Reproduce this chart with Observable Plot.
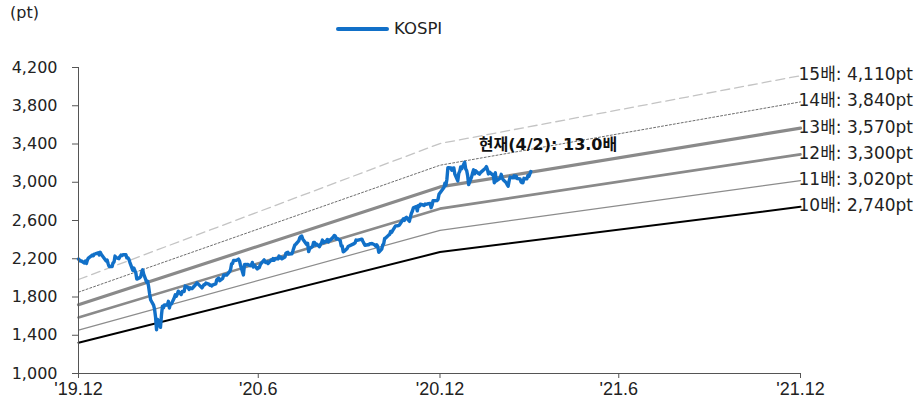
<!DOCTYPE html>
<html><head><meta charset="utf-8">
<script src="https://cdn.jsdelivr.net/npm/d3@7"></script>
<script src="https://cdn.jsdelivr.net/npm/@observablehq/plot@0.6"></script>
<style>
body{margin:0;background:#fff;font-family:"DejaVu Sans","Noto Sans CJK KR",sans-serif;color:#222;}
#wrap{width:922px;}
#head{position:relative;height:48px;}
#unit{position:absolute;left:10px;top:3px;font-size:16px;}
#leg{position:absolute;left:336px;top:19px;display:flex;align-items:center;font-size:16.5px;}
#leg span.sw{display:inline-block;width:53px;height:4px;border-radius:2px;background:#1170c8;margin-right:5px;}
g[aria-label="y-axis tick"],g[aria-label="x-axis tick"]{stroke:#555;}
g[aria-label="y-axis tick label"] text{font-size:16px;fill:#222;}
g[aria-label="x-axis tick label"] text{font-family:"Liberation Sans Narrow","Liberation Sans",sans-serif;font-size:18px;fill:#222;}
</style></head>
<body><div id="wrap"><div id="head"><div id="unit">(pt)</div><div id="leg"><span class="sw"></span>KOSPI</div></div><div id="chart"></div></div>
<script>
// EPS-based PER bands
const epsDates = ["2019-12-31","2020-12-31","2021-12-31"];
const epsValues = [132.2, 227.0, 274.3];
const multiples = [10, 11, 12, 13, 14, 15];
const bandLabels = ["10배: 2,740pt","11배: 3,020pt","12배: 3,300pt","13배: 3,570pt","14배: 3,840pt","15배: 4,110pt"];
const annotationText = "현재(4/2): 13.0배";

const yTicks = [1000,1400,1800,2200,2600,3000,3400,3800,4200];
const xTickDates = ["2019-12-31","2020-06-30","2020-12-31","2021-06-30","2021-12-31"];
const xTickLabels = ["'19.12","'20.6","'20.12","'21.6","'21.12"];

const kospiDates = ["2019-12-31","2020-01-02","2020-01-03","2020-01-06","2020-01-07","2020-01-08","2020-01-09","2020-01-10","2020-01-13","2020-01-14","2020-01-15","2020-01-16","2020-01-17","2020-01-20","2020-01-21","2020-01-22","2020-01-23","2020-01-28","2020-01-29","2020-01-30","2020-01-31","2020-02-03","2020-02-04","2020-02-05","2020-02-06","2020-02-07","2020-02-10","2020-02-11","2020-02-12","2020-02-13","2020-02-14","2020-02-17","2020-02-18","2020-02-19","2020-02-20","2020-02-21","2020-02-24","2020-02-25","2020-02-26","2020-02-27","2020-02-28","2020-03-02","2020-03-03","2020-03-04","2020-03-05","2020-03-06","2020-03-09","2020-03-10","2020-03-11","2020-03-12","2020-03-13","2020-03-16","2020-03-17","2020-03-18","2020-03-19","2020-03-20","2020-03-23","2020-03-24","2020-03-25","2020-03-26","2020-03-27","2020-03-30","2020-03-31","2020-04-01","2020-04-02","2020-04-03","2020-04-06","2020-04-07","2020-04-08","2020-04-09","2020-04-10","2020-04-13","2020-04-14","2020-04-16","2020-04-17","2020-04-20","2020-04-21","2020-04-22","2020-04-23","2020-04-24","2020-04-27","2020-04-28","2020-04-29","2020-05-04","2020-05-06","2020-05-07","2020-05-08","2020-05-11","2020-05-12","2020-05-13","2020-05-14","2020-05-15","2020-05-18","2020-05-19","2020-05-20","2020-05-21","2020-05-22","2020-05-25","2020-05-26","2020-05-27","2020-05-28","2020-05-29","2020-06-01","2020-06-02","2020-06-03","2020-06-04","2020-06-05","2020-06-08","2020-06-09","2020-06-10","2020-06-11","2020-06-12","2020-06-15","2020-06-16","2020-06-17","2020-06-18","2020-06-19","2020-06-22","2020-06-23","2020-06-24","2020-06-25","2020-06-26","2020-06-29","2020-06-30","2020-07-01","2020-07-02","2020-07-03","2020-07-06","2020-07-07","2020-07-08","2020-07-09","2020-07-10","2020-07-13","2020-07-14","2020-07-15","2020-07-16","2020-07-17","2020-07-20","2020-07-21","2020-07-22","2020-07-23","2020-07-24","2020-07-27","2020-07-28","2020-07-29","2020-07-30","2020-07-31","2020-08-03","2020-08-04","2020-08-05","2020-08-06","2020-08-07","2020-08-10","2020-08-11","2020-08-12","2020-08-13","2020-08-14","2020-08-18","2020-08-19","2020-08-20","2020-08-21","2020-08-24","2020-08-25","2020-08-26","2020-08-27","2020-08-28","2020-08-31","2020-09-01","2020-09-02","2020-09-03","2020-09-04","2020-09-07","2020-09-08","2020-09-09","2020-09-10","2020-09-11","2020-09-14","2020-09-15","2020-09-16","2020-09-17","2020-09-18","2020-09-21","2020-09-22","2020-09-23","2020-09-24","2020-09-25","2020-09-28","2020-09-29","2020-10-05","2020-10-06","2020-10-07","2020-10-08","2020-10-12","2020-10-13","2020-10-14","2020-10-15","2020-10-16","2020-10-19","2020-10-20","2020-10-21","2020-10-22","2020-10-23","2020-10-26","2020-10-27","2020-10-28","2020-10-29","2020-10-30","2020-11-02","2020-11-03","2020-11-04","2020-11-05","2020-11-06","2020-11-09","2020-11-10","2020-11-11","2020-11-12","2020-11-13","2020-11-16","2020-11-17","2020-11-18","2020-11-19","2020-11-20","2020-11-23","2020-11-24","2020-11-25","2020-11-26","2020-11-27","2020-11-30","2020-12-01","2020-12-02","2020-12-03","2020-12-04","2020-12-07","2020-12-08","2020-12-09","2020-12-10","2020-12-11","2020-12-14","2020-12-15","2020-12-16","2020-12-17","2020-12-18","2020-12-21","2020-12-22","2020-12-23","2020-12-24","2020-12-28","2020-12-29","2020-12-30","2021-01-04","2021-01-05","2021-01-06","2021-01-07","2021-01-08","2021-01-11","2021-01-12","2021-01-13","2021-01-14","2021-01-15","2021-01-18","2021-01-19","2021-01-20","2021-01-21","2021-01-22","2021-01-25","2021-01-26","2021-01-27","2021-01-28","2021-01-29","2021-02-01","2021-02-02","2021-02-03","2021-02-04","2021-02-05","2021-02-08","2021-02-09","2021-02-10","2021-02-15","2021-02-16","2021-02-17","2021-02-18","2021-02-19","2021-02-22","2021-02-23","2021-02-24","2021-02-25","2021-02-26","2021-03-02","2021-03-03","2021-03-04","2021-03-05","2021-03-08","2021-03-09","2021-03-10","2021-03-11","2021-03-12","2021-03-15","2021-03-16","2021-03-17","2021-03-18","2021-03-19","2021-03-22","2021-03-23","2021-03-24","2021-03-25","2021-03-26","2021-03-29","2021-03-30","2021-03-31","2021-04-01","2021-04-02"];
const kospiValues = [2197.7,2175.5,2176.5,2155.1,2175.5,2151.3,2186.5,2206.4,2229.3,2238.9,2231.0,2248.1,2250.6,2262.6,2239.7,2267.3,2246.1,2176.7,2185.3,2148.0,2119.0,2118.9,2157.9,2165.6,2227.9,2212.0,2201.1,2223.1,2238.4,2233.0,2243.6,2242.2,2208.9,2210.3,2195.5,2162.8,2079.0,2103.6,2076.8,2054.9,1987.0,2002.5,2014.2,2059.3,2085.3,2040.2,1954.8,1962.9,1908.3,1834.3,1771.4,1714.9,1672.4,1591.2,1457.6,1566.2,1482.5,1610.0,1704.8,1686.2,1717.7,1717.1,1754.6,1685.5,1724.9,1725.4,1791.9,1823.6,1807.1,1828.0,1860.7,1825.8,1857.1,1857.0,1914.5,1898.4,1879.4,1896.7,1889.0,1889.0,1922.8,1934.0,1947.6,1895.4,1928.8,1928.6,1945.8,1935.4,1922.2,1925.0,1915.6,1927.3,1937.1,1980.4,1989.6,1998.3,1970.1,1994.6,2029.8,2031.2,2028.5,2029.6,2065.1,2087.2,2147.0,2151.2,2181.9,2184.3,2188.9,2195.7,2176.8,2132.3,2030.8,2138.1,2141.1,2139.0,2141.3,2126.7,2131.2,2161.5,2112.4,2134.7,2093.5,2108.3,2106.7,2135.4,2152.4,2187.9,2164.2,2160.0,2167.3,2150.3,2186.1,2183.6,2201.2,2183.8,2201.2,2198.2,2228.7,2207.9,2216.2,2200.4,2217.9,2257.0,2263.2,2267.0,2249.4,2251.0,2280.0,2311.9,2342.6,2351.7,2386.4,2418.7,2432.4,2437.5,2407.5,2348.2,2360.5,2274.2,2304.6,2329.8,2369.8,2369.3,2344.5,2353.8,2326.2,2349.6,2364.2,2395.9,2368.3,2384.2,2401.9,2375.8,2396.7,2396.5,2427.9,2443.6,2435.9,2406.2,2412.4,2389.4,2332.6,2333.2,2272.7,2278.8,2308.1,2327.9,2358.0,2365.9,2395.9,2392.0,2403.2,2403.7,2380.5,2361.2,2341.5,2346.7,2346.7,2358.4,2355.1,2360.8,2343.9,2330.8,2345.3,2326.7,2267.2,2300.2,2343.3,2357.3,2413.8,2416.5,2447.2,2452.8,2485.9,2475.6,2493.9,2543.0,2543.8,2545.6,2547.4,2553.5,2602.6,2617.8,2601.5,2625.9,2633.5,2591.3,2634.3,2672.9,2696.2,2731.5,2745.4,2700.9,2755.5,2746.5,2770.1,2762.2,2756.8,2771.8,2770.4,2772.2,2778.7,2733.7,2759.8,2806.9,2808.6,2820.5,2873.5,2944.5,2990.6,2968.2,3031.7,3152.2,3148.5,3126.0,3148.3,3149.9,3085.9,3013.9,3092.7,3114.6,3160.8,3140.6,3209.0,3140.3,3122.6,3069.1,2976.2,3056.5,3096.8,3129.7,3087.6,3120.6,3091.2,3084.7,3100.6,3147.0,3163.3,3133.7,3086.7,3107.6,3079.8,3070.1,2995.0,3099.7,3013.0,3043.5,3083.0,3043.9,3026.3,2996.1,2976.1,2958.1,3013.7,3054.4,3045.7,3067.2,3047.5,3066.0,3039.5,3035.5,3004.7,2996.4,2995.0,3041.0,3036.0,3070.0,3061.4,3087.4,3112.8];

const parse = d3.utcParse("%Y-%m-%d");
const kospi = kospiDates.map((d, i) => ({date: parse(d), value: kospiValues[i]}));
const bands = multiples.flatMap((m) => epsDates.map((d, i) => ({m, date: parse(d), value: m * epsValues[i]})));
const bandEnds = multiples.map((m, i) => ({m, date: parse(epsDates[epsDates.length - 1]), value: m * epsValues[epsValues.length - 1], label: bandLabels[i]}));
const annotation = [{date: parse(kospiDates[kospiDates.length - 1]), value: 3390, text: annotationText}];

const bandStyle = {
  10: {stroke: "#000000", strokeWidth: 2, dash: null},
  11: {stroke: "#8c8c8c", strokeWidth: 1.2, dash: null},
  12: {stroke: "#8a8a8a", strokeWidth: 2.6, dash: null},
  13: {stroke: "#8a8a8a", strokeWidth: 3.2, dash: null},
  14: {stroke: "#6e6e6e", strokeWidth: 1, dash: "2,2"},
  15: {stroke: "#c4c4c4", strokeWidth: 1.3, dash: "9,5"}
};

const xLabelMap = new Map(xTickDates.map((d, i) => [+parse(d), xTickLabels[i]]));
const x0 = parse(xTickDates[0]), x1 = parse(xTickDates[xTickDates.length - 1]);
const FONT = "DejaVu Sans, Noto Sans CJK KR, sans-serif";

const marks = [
  Plot.axisY({ticks: yTicks, tickFormat: d3.format(","), tickSize: 6, tickPadding: 15, label: null}),
  Plot.axisX({ticks: xTickDates.map(parse), tickFormat: (d) => xLabelMap.get(+d), tickSize: 5, tickPadding: 4, label: null}),
];
for (const m of multiples) {
  const s = bandStyle[m];
  marks.push(Plot.line(bands.filter((b) => b.m === m), {x: "date", y: "value", stroke: s.stroke, strokeWidth: s.strokeWidth, strokeDasharray: s.dash}));
}
marks.push(
  Plot.line(kospi, {x: "date", y: "value", stroke: "#1170c8", strokeWidth: 3.4, strokeLinejoin: "round"}),
  Plot.ruleX([x0], {y1: yTicks[0], y2: yTicks[yTicks.length - 1], stroke: "#555", strokeWidth: 1}),
  Plot.ruleY([yTicks[0]], {x1: x0, x2: x1, stroke: "#555", strokeWidth: 1}),
  Plot.text(bandEnds, {x: "date", y: "value", text: "label", textAnchor: "start", dx: -2, dy: -1, fontSize: 17, fill: "#222", fontFamily: FONT}),
  Plot.text(annotation, {x: "date", y: "value", text: "text", textAnchor: "start", dx: -52, fontSize: 16, fontWeight: "bold", fill: "#111", fontFamily: FONT})
);

const chart = Plot.plot({
  width: 922, height: 355,
  marginTop: 19, marginBottom: 30, marginLeft: 78, marginRight: 122,
  style: {fontFamily: FONT, fontSize: "16px", background: "#fff", overflow: "visible"},
  x: {type: "utc", domain: [x0, x1]},
  y: {domain: [yTicks[0], yTicks[yTicks.length - 1]]},
  marks
});
document.getElementById("chart").appendChild(chart);
</script></body></html>
